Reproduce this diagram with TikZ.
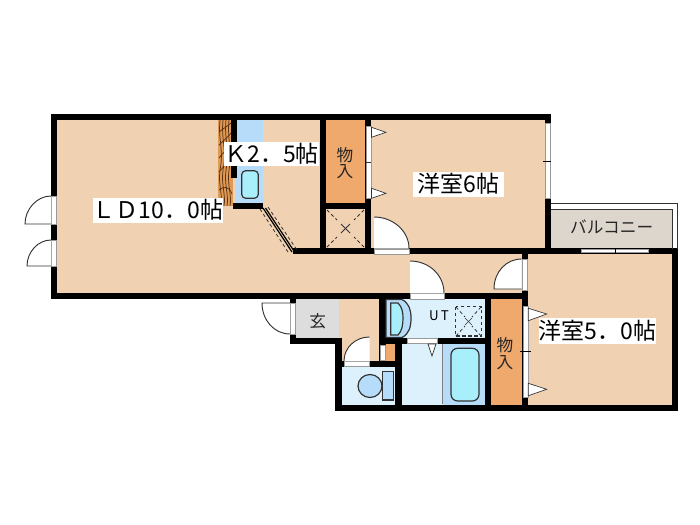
\documentclass[tikz,border=0pt]{standalone}
\usepackage{fontspec}
\setmainfont{Noto Sans CJK JP}
\definecolor{floorc}{HTML}{F0D2B2}
\definecolor{closetc}{HTML}{F0A96C}
\definecolor{kblue}{HTML}{B7DCFA}
\definecolor{cyanc}{HTML}{A9EEFB}
\definecolor{paleb}{HTML}{DDF1FC}
\definecolor{grayc}{HTML}{DCDDDC}
\definecolor{balc}{HTML}{DDD6CC}
\definecolor{woodc}{HTML}{DF9A55}
\definecolor{woodl}{HTML}{5A3010}
\definecolor{edgec}{HTML}{333333}
\tikzset{
  wallp/.style={fill=black,draw=none},
  zone/.style={draw=none,fill=#1},
  opening/.style={fill=white,draw=gray!80!white,line width=0.5pt},
  doorfill/.style={fill=white,draw=none},
  doorarc/.style={draw=edgec,line width=0.7pt},
  hinge/.style={fill=white,draw=edgec,line width=0.5pt},
  fixture/.style={draw=edgec,line width=0.9pt,fill=#1},
  biglabel/.style={fill=white,inner sep=0pt,text=black,font=\fontsize{17.25pt}{18pt}\selectfont},
  smalllabel/.style={inner sep=0pt,text=black!85,font=\fontsize{12.5pt}{13pt}\selectfont},
  dashx/.style={draw=edgec,line width=0.6pt,dash pattern=on 2.5pt off 2pt},
  woodline/.style={draw=woodl,line width=0.55pt}
}
\begin{document}
\begin{tikzpicture}[x=0.75pt,y=-0.75pt]
\useasboundingbox (0,0) rectangle (700,525);
% floors
\fill[zone=floorc] (55,118) rectangle (322,295);
\fill[zone=floorc] (290,250) rectangle (525,295);
\fill[zone=floorc] (369,118) rectangle (546,250);
\fill[zone=floorc] (526,252) rectangle (673,406);
\fill[zone=floorc] (336,297) rectangle (381,363);
\fill[zone=floorc] (324,207) rectangle (367,250);
\fill[zone=closetc] (324,118) rectangle (367,205);
\fill[zone=closetc] (489,297) rectangle (523,406);
\fill[zone=closetc] (384,344) rectangle (397,362);
\fill[zone=grayc] (294,297) rectangle (338.5,340);
\fill[zone=balc] (550,209) rectangle (672,250);
\fill[zone=paleb] (384,297) rectangle (487,340);
\fill[zone=paleb] (340,365) rectangle (397,406);
\fill[zone=paleb] (400,342) rectangle (443,406);
\fill[zone=kblue] (443,342) rectangle (487,406);
\fill[zone=kblue] (235,118) rectangle (263,205);
% wood panel
\fill[zone=woodc] (218,119) rectangle (233,206);
\draw[woodline] (220,120) .. controls (218,140) and (224,150) .. (220,170) .. controls (218,185) and (223,195) .. (221,206);
\draw[woodline] (223,120) .. controls (221,140) and (227,150) .. (223,170) .. controls (221,185) and (226,195) .. (224,206);
\draw[woodline] (226,120) .. controls (224,140) and (230,150) .. (226,170) .. controls (224,185) and (229,195) .. (227,206);
\draw[woodline] (229,120) .. controls (227,140) and (232.5,150) .. (229,170) .. controls (227,185) and (232,195) .. (230,206);
\draw[woodline] (219,132) .. controls (224,128) and (228,126) .. (232,122);
\draw[woodline] (219,145) .. controls (224,140) and (228,137) .. (232,132);
\draw[woodline] (219,158) .. controls (224,152) and (228,148) .. (232,142);
\draw[woodline] (219,172) .. controls (224,166) and (228,162) .. (232,156);
\draw[woodline] (219,190) .. controls (224,186) and (229,186) .. (232,194);
% walls
\fill[wallp] (51,113.5) rectangle (551,120);
\fill[wallp] (51,113.5) rectangle (57,299);
\fill[wallp] (51,293) rectangle (528,299);
\fill[wallp] (231,113.5) rectangle (237,178);
\fill[wallp] (233,203) rectangle (263,209);
\fill[wallp] (320,113.5) rectangle (326,254);
\fill[wallp] (365,113.5) rectangle (371,254);
\fill[wallp] (320,203) rectangle (371,209);
\fill[wallp] (293,248.3) rectangle (678,254.3);
\fill[wallp] (544.5,113.5) rectangle (551,254);
\fill[wallp] (522,248.3) rectangle (528,411);
\fill[wallp] (672,248.3) rectangle (678,411);
\fill[wallp] (335,404.5) rectangle (678,411);
\fill[wallp] (290,293) rectangle (296,344);
\fill[wallp] (290,338) rectangle (342,344);
\fill[wallp] (335,338) rectangle (342,411);
\fill[wallp] (342,361) rectangle (401,367);
\fill[wallp] (379,293) rectangle (386,367);
\fill[wallp] (386,338) rectangle (490,344);
\fill[wallp] (395,338) rectangle (402,411);
\fill[wallp] (485,293) rectangle (491,411);
% balcony rail
\draw[draw=edgec,line width=0.6pt] (551,203.7) -- (677,203.7) -- (677,249);
\draw[draw=edgec,line width=0.6pt] (551,209) -- (672,209) -- (672,249);
% windows and openings
\filldraw[opening] (545.5,123) rectangle (550,198);
\draw[line width=0.6pt] (543,161) -- (551,161);
\filldraw[opening] (581,249.8) rectangle (648,252.8);
\draw[line width=0.6pt] (615,248.5) -- (615,254);
\filldraw[opening] (366,126) rectangle (371,198);
\draw[line width=0.5pt,draw=edgec] (366,162) -- (371,162);
\filldraw[opening] (523,306) rectangle (528,397);
\draw[line width=0.6pt] (520,351) -- (531,351);
\filldraw[opening] (374,249) rectangle (409,254);
\filldraw[opening] (410,293.5) rectangle (444,299);
\filldraw[opening] (522.5,259) rectangle (527.5,290);
\filldraw[opening] (51.5,196) rectangle (56.5,224);
\filldraw[opening] (51.5,240) rectangle (56.5,266);
\filldraw[opening] (290.5,303) rectangle (295.5,334);
\filldraw[opening] (344,361.5) rectangle (369.5,366.5);
\filldraw[opening] (407,338.5) rectangle (437,343.5);
\filldraw[opening] (380,345) rectangle (385,360);
% closet hinges
\filldraw[hinge] (371.5,127.3) -- (386,132.3) -- (371.5,137.3) -- cycle;
\filldraw[hinge] (371.5,188.3) -- (386,193.3) -- (371.5,198.3) -- cycle;
\filldraw[hinge] (528.3,308.3) -- (546.7,314) -- (528.3,320.7) -- cycle;
\filldraw[hinge] (528.3,383.3) -- (546.7,389.3) -- (528.3,395.7) -- cycle;
\filldraw[hinge] (428,344) -- (436,344) -- (432,356) -- cycle;
% doors
\fill[doorfill] (51,224) -- (25,224) .. controls (25,209) and (37,196) .. (51,196) -- cycle;
\draw[doorarc] (51,224) -- (25,224) .. controls (25,209) and (37,196) .. (51,196);
\fill[doorfill] (51,266) -- (27,266) .. controls (27,252) and (38,240) .. (51,240) -- cycle;
\draw[doorarc] (51,266) -- (27,266) .. controls (27,252) and (38,240) .. (51,240);
\fill[doorfill] (374,248.5) -- (374,217) .. controls (393,217) and (409,231) .. (409,248.5) -- cycle;
\draw[doorarc] (374,217) .. controls (393,217) and (409,231) .. (409,248.5);
\fill[doorfill] (410,293) -- (410,261) .. controls (429,261) and (444,275) .. (444,293) -- cycle;
\draw[doorarc] (410,261) .. controls (429,261) and (444,275) .. (444,293);
\fill[doorfill] (521.7,289) -- (521.7,259) .. controls (506,259) and (494,272) .. (494,289) -- cycle;
\draw[doorarc] (521.7,259) .. controls (506,259) and (494,272) .. (494,289) -- (521.7,289);
\fill[doorfill] (290,303) -- (262,303) .. controls (262,320) and (274,334) .. (290,334) -- cycle;
\draw[doorarc] (290,303) -- (262,303) .. controls (262,320) and (274,334) .. (290,334);
\fill[doorfill] (369.5,361) -- (369.5,337) .. controls (355,337) and (344,348) .. (344,361) -- cycle;
\draw[doorarc] (369.5,337) .. controls (355,337) and (344,348) .. (344,361);
% diagonal sliding door
\draw[line width=0.9pt] (263,208) -- (292,252);
\draw[line width=0.9pt] (265.5,208) -- (294,251);
\draw[dashx] (260,209) -- (288,252);
\draw[dashx] (268,207) -- (297,250);
% PS box
\draw[dashx] (327,210) -- (337,220);
\draw[dashx] (364,210) -- (354,220);
\draw[dashx] (327,247) -- (337,237);
\draw[dashx] (364,247) -- (354,237);
\draw[draw=edgec,line width=0.6pt] (341,224) -- (350,233);
\draw[draw=edgec,line width=0.6pt] (350,224) -- (341,233);
% kitchen sink
\fill[wallp] (231,170) rectangle (236.5,178);
\filldraw[fixture=cyanc,rounded corners=3pt] (241.7,170.7) rectangle (258.3,198.3);
% washroom fixtures
\filldraw[fixture=kblue] (386,299.5) -- (402,299.5) .. controls (409,303) and (411,310) .. (411,318) .. controls (411,327) and (409,334) .. (402,337.5) -- (386,337.5) -- cycle;
\filldraw[fixture=cyanc] (390.7,303) -- (398,303) .. controls (402,307) and (403,312) .. (403,318) .. controls (403,325) and (402,331) .. (398,335) -- (390.7,335) -- cycle;
\draw[draw=edgec,line width=0.9pt,dash pattern=on 2.5pt off 2pt] (455.7,306.7) rectangle (481.7,336);
\draw[dashx] (456,307) -- (465,317);
\draw[dashx] (481,307) -- (472,317);
\draw[dashx] (456,336) -- (465,326);
\draw[dashx] (481,336) -- (472,326);
\draw[draw=edgec,line width=0.5pt] (465,318) -- (472,325);
\draw[draw=edgec,line width=0.5pt] (472,318) -- (465,325);
\draw[draw=gray,line width=0.5pt] (442.7,344) -- (442.7,404);
\filldraw[fixture=cyanc,rounded corners=5pt] (451,348.3) rectangle (479,401);
% toilet
\filldraw[fixture=kblue] (370,386) ellipse [x radius=12,y radius=11.5];
\filldraw[fixture=kblue] (382.3,371.7) rectangle (393.3,400);
% labels
\node[biglabel,minimum width=127.5*0.75pt,minimum height=25*0.75pt] (ld) at (158,210) {ＬＤ10．0帖};
\node[biglabel,minimum width=87*0.75pt,minimum height=24*0.75pt] (k) at (271.5,154) {Ｋ2．5帖};
\node[biglabel,minimum width=91*0.75pt,minimum height=25*0.75pt] (r6) at (458.5,184) {洋室6帖};
\node[biglabel,minimum width=116.5*0.75pt,minimum height=25.5*0.75pt] (r5) at (597.6,331) {洋室5．0帖};
\node[smalllabel] (balcony) at (611.7,227) {バルコニー};
\node[smalllabel] (closetA) at (345,155) {物};
\node[smalllabel] (closetA2) at (345,172) {入};
\node[smalllabel] (closetB) at (505,345) {物};
\node[smalllabel] (closetB2) at (505,363) {入};
\node[smalllabel] (genkan) at (317.7,321) {玄};
\node[inner sep=0pt,font=\fontsize{10pt}{11pt}\selectfont] (ut) at (439,316) {U\,T};
\end{tikzpicture}
\end{document}
